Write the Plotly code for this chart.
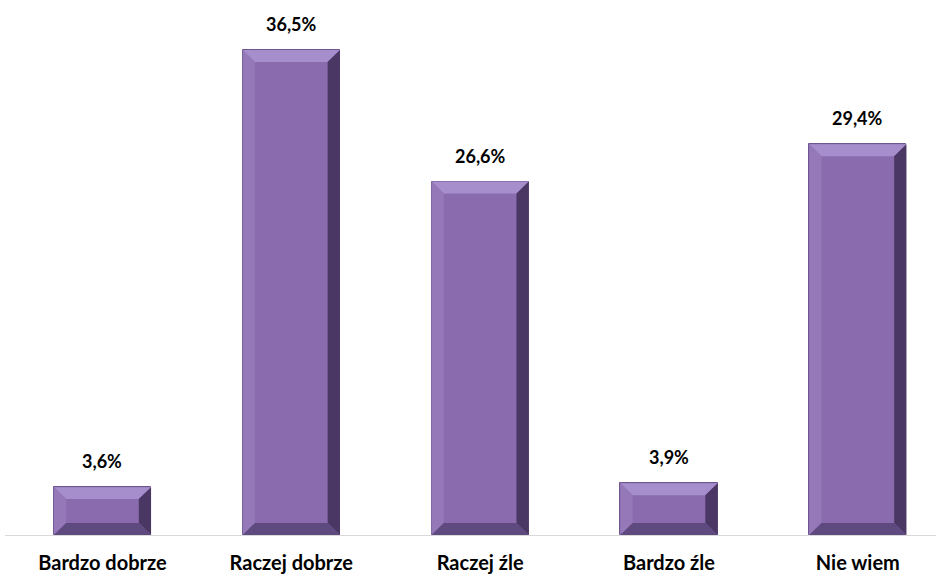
import plotly.graph_objects as go

categories = ["Bardzo dobrze", "Raczej dobrze", "Raczej źle", "Bardzo źle", "Nie wiem"]
values = [3.6, 36.5, 26.6, 3.9, 29.4]

face = "#8A6CAE"
top_col = "#A68DCB"
left_col = "#9578B8"
right_col = "#4B3764"
bottom_col = "#5F4A80"

bw = 0.515          # bar width in category units
bx = 0.065          # bevel thickness, x units
by = 0.9            # bevel thickness, y units

xs = list(range(len(categories)))

fig = go.Figure()
fig.add_trace(go.Bar(x=xs, y=values, width=bw, marker=dict(color=face, line=dict(color="#6E5690", width=1)),
                     hoverinfo="skip"))

# bevel shapes built from the data
shapes = []
for x, v in zip(xs, values):
    x0, x1 = x - bw / 2, x + bw / 2
    def poly(pts, col):
        d = "M " + " L ".join(f"{px},{py}" for px, py in pts) + " Z"
        shapes.append(dict(type="path", path=d, fillcolor=col, line=dict(width=0), layer="above"))
    poly([(x0, v), (x1, v), (x1 - bx, v - by), (x0 + bx, v - by)], top_col)
    poly([(x0, 0), (x0, v), (x0 + bx, v - by), (x0 + bx, by)], left_col)
    poly([(x1, 0), (x1, v), (x1 - bx, v - by), (x1 - bx, by)], right_col)
    poly([(x0, 0), (x1, 0), (x1 - bx, by), (x0 + bx, by)], bottom_col)

annotations = [dict(x=x, y=v, text=f"{v:.1f}%".replace(".", ","), showarrow=False, yanchor="bottom", yshift=13,
                    font=dict(size=18, color="black", family="Lato", weight="bold"))
               for x, v in zip(xs, values)]

fig.update_layout(
    width=936, height=576, template=None, plot_bgcolor="white", paper_bgcolor="white",
    margin=dict(l=5, r=0, t=0, b=41), showlegend=False, bargap=0,
    shapes=shapes, annotations=annotations,
    font=dict(family="Lato", size=20, color="black"),
)
fig.update_xaxes(tickvals=xs, ticktext=[f"<b>{c}</b>" for c in categories], range=[-0.516, 4.414],
                 showline=True, linecolor="#D9D9D9", linewidth=1, showgrid=False, zeroline=False,
                 ticks="", ticklabelstandoff=10, automargin=False)
fig.update_yaxes(range=[0, 40.26], visible=False)

fig.write_html("out.html", config={"displayModeBar": False},
               post_script="document.body.style.margin='0';")
